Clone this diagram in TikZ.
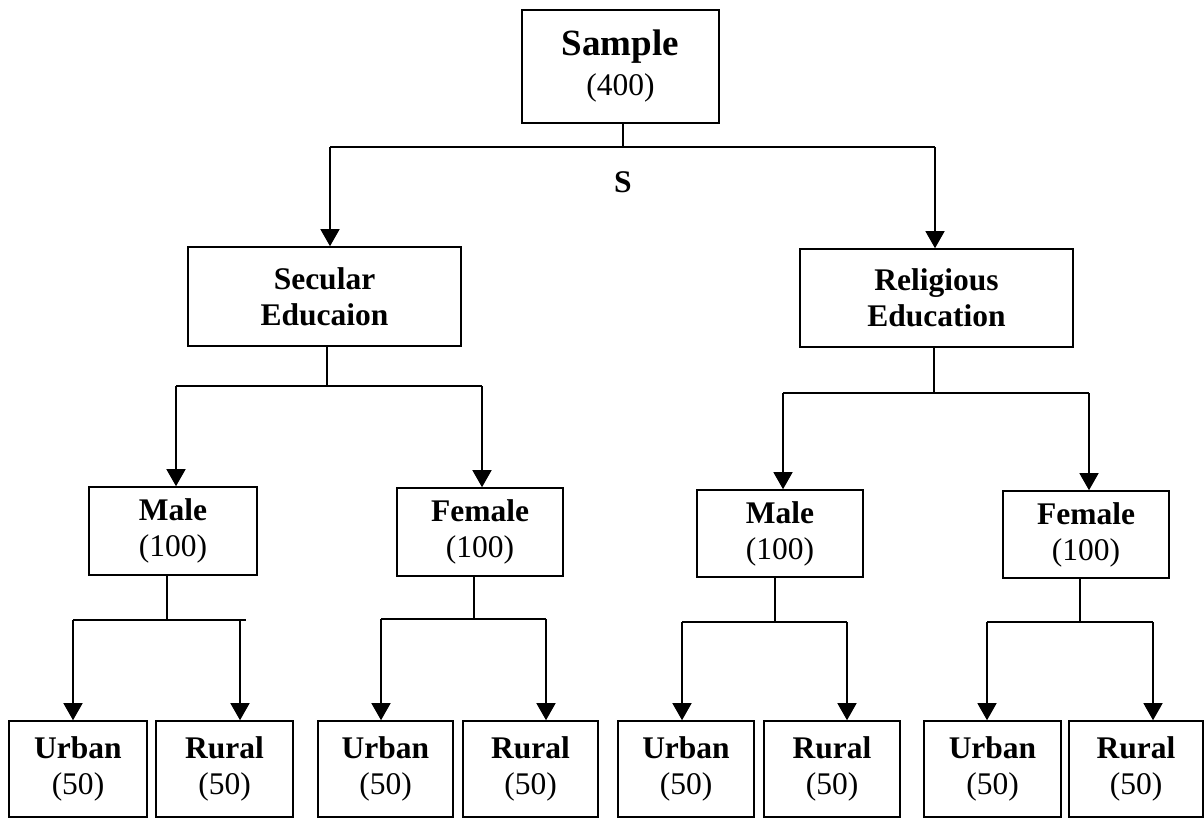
\documentclass[tikz,border=0pt]{standalone}
\usepackage{fontspec}
\setmainfont{Liberation Serif}
\usetikzlibrary{arrows.meta}
\tikzset{
  box/.style={draw=black, line width=1.6pt, inner sep=0pt, align=center, font=\fontsize{31.5}{36}\selectfont},
  conn/.style={draw=black, line width=1.4pt},
  arr/.style={conn, -{Triangle[width=19pt,length=17pt]}},
}
\begin{document}
\begin{tikzpicture}[x=1pt,y=-1pt]
\useasboundingbox[fill=white] (0,0) rectangle (1204,820);
% top
\node[box, minimum width=197pt, minimum height=113pt, font=\fontsize{37}{40}\selectfont] (sample) at (620.5,66.5) {\textbf{Sample}\\{\fontsize{31.5}{36}\selectfont(400)}};
% level 1
\node[box, minimum width=273pt, minimum height=99pt] (sec) at (324.5,296.5) {\textbf{Secular}\\\textbf{Educaion}};
\node[box, minimum width=273pt, minimum height=98pt] (rel) at (936.5,298) {\textbf{Religious}\\\textbf{Education}};
% level 2
\node[box, minimum width=168pt, minimum height=88pt] (m1) at (173,531) {\textbf{Male}\\(100)};
\node[box, minimum width=166pt, minimum height=88pt] (f1) at (480,532) {\textbf{Female}\\(100)};
\node[box, minimum width=166pt, minimum height=87pt] (m2) at (780,533.5) {\textbf{Male}\\(100)};
\node[box, minimum width=166pt, minimum height=87pt] (f2) at (1086,534.5) {\textbf{Female}\\(100)};
% level 3
\node[box, minimum width=138pt, minimum height=96pt] (u1) at (78,769) {\textbf{Urban}\\(50)};
\node[box, minimum width=137pt, minimum height=96pt] (r1) at (224.5,769) {\textbf{Rural}\\(50)};
\node[box, minimum width=135pt, minimum height=96pt] (u2) at (385.5,769) {\textbf{Urban}\\(50)};
\node[box, minimum width=135pt, minimum height=96pt] (r2) at (530.5,769) {\textbf{Rural}\\(50)};
\node[box, minimum width=136pt, minimum height=96pt] (u3) at (686,769) {\textbf{Urban}\\(50)};
\node[box, minimum width=136pt, minimum height=96pt] (r3) at (832,769) {\textbf{Rural}\\(50)};
\node[box, minimum width=137pt, minimum height=96pt] (u4) at (992.5,769) {\textbf{Urban}\\(50)};
\node[box, minimum width=134pt, minimum height=96pt] (r4) at (1136,769) {\textbf{Rural}\\(50)};
% label S
\node[font=\fontsize{31.5}{36}\selectfont\bfseries, inner sep=0pt] (s) at (623,182) {S};
% connectors level 0
\coordinate (j0) at (623,147);
\coordinate (j0l) at (330,147);
\coordinate (j0r) at (935,147);
\draw[conn] (sample.south -| j0) -- (j0);
\draw[conn] (j0l) -- (j0r);
\draw[arr] (j0l) -- (sec.north -| j0l);
\draw[arr] (j0r) -- (rel.north -| j0r);
% level 1 -> 2
\coordinate (j1) at (327,386);
\coordinate (j1l) at (176,386);
\coordinate (j1r) at (482,386);
\draw[conn] (sec.south -| j1) -- (j1);
\draw[conn] (j1l) -- (j1r);
\draw[arr] (j1l) -- (m1.north -| j1l);
\draw[arr] (j1r) -- (f1.north -| j1r);
\coordinate (j2) at (934,393);
\coordinate (j2l) at (783,393);
\coordinate (j2r) at (1089,393);
\draw[conn] (rel.south -| j2) -- (j2);
\draw[conn] (j2l) -- (j2r);
\draw[arr] (j2l) -- (m2.north -| j2l);
\draw[arr] (j2r) -- (f2.north -| j2r);
% level 2 -> 3
\coordinate (k1) at (167,620);
\coordinate (k1l) at (73,620);
\coordinate (k1r) at (240,620);
\coordinate (k1e) at (246,620);
\draw[conn] (m1.south -| k1) -- (k1);
\draw[conn] (k1l) -- (k1e);
\draw[arr] (k1l) -- (u1.north -| k1l);
\draw[arr] (k1r) -- (r1.north -| k1r);
\coordinate (k2) at (474,619);
\coordinate (k2l) at (381,619);
\coordinate (k2r) at (546,619);
\draw[conn] (f1.south -| k2) -- (k2);
\draw[conn] (k2l) -- (k2r);
\draw[arr] (k2l) -- (u2.north -| k2l);
\draw[arr] (k2r) -- (r2.north -| k2r);
\coordinate (k3) at (775,622);
\coordinate (k3l) at (682,622);
\coordinate (k3r) at (847,622);
\draw[conn] (m2.south -| k3) -- (k3);
\draw[conn] (k3l) -- (k3r);
\draw[arr] (k3l) -- (u3.north -| k3l);
\draw[arr] (k3r) -- (r3.north -| k3r);
\coordinate (k4) at (1080,622);
\coordinate (k4l) at (987,622);
\coordinate (k4r) at (1153,622);
\draw[conn] (f2.south -| k4) -- (k4);
\draw[conn] (k4l) -- (k4r);
\draw[arr] (k4l) -- (u4.north -| k4l);
\draw[arr] (k4r) -- (r4.north -| k4r);
\end{tikzpicture}
\end{document}
